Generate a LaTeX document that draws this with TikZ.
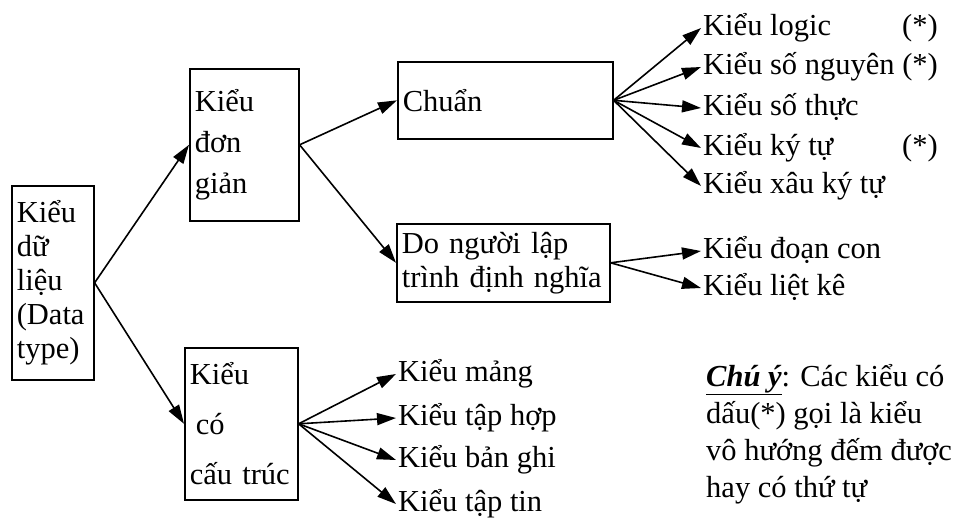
\documentclass[tikz,border=0pt]{standalone}
\usepackage{fontspec}
\setmainfont{Liberation Serif}
\usetikzlibrary{positioning, arrows.meta}
\tikzset{
  typebox/.style={draw, line width=1.6pt, inner xsep=5pt, inner ysep=0pt,
    align=left, anchor=north west, font=\fontsize{30.5pt}{34pt}\selectfont},
  leaf/.style={inner xsep=2pt, inner ysep=0pt, text height=21pt, text depth=7pt,
    anchor=base west, font=\fontsize{30.5pt}{34pt}\selectfont},
  typearrow/.style={-{Triangle[length=19pt, width=12pt]}, line width=1.6pt},
}

\begin{document}
\begin{tikzpicture}[x=1pt, y=-1pt]
  \useasboundingbox (0,0) rectangle (961,523);

  % === Root ===
  \node[typebox, text width=72pt, minimum width=82pt, minimum height=194pt] (kdl) at (11,185)
    {Kiểu\\dữ\\liệu\\(Data\\type)};

  % === Level 1 ===
  \node[typebox, text width=99pt, minimum width=109pt, minimum height=152pt,
    font=\fontsize{30.5pt}{41pt}\selectfont] (kdg) at (189,68) {Kiểu\\đơn\\giản};
  \node[typebox, text width=103pt, minimum width=113pt, minimum height=152pt,
    font=\fontsize{30.5pt}{50pt}\selectfont] (kct) at (184,347) {Kiểu\\\hspace*{0.2em}có\\cấu trúc};

  % === Level 2 ===
  \node[typebox, text width=205pt, minimum width=215pt, minimum height=77pt] (chuan) at (397,61) {Chuẩn};
  \node[typebox, text width=203pt, minimum width=213pt, minimum height=78pt] (dnl) at (396,223)
    {Do người lập\\trình định nghĩa};

  % === Leaves: Chuẩn ===
  \node[leaf] (logic)    at (701,35)  {Kiểu logic};
  \node[leaf] (songuyen) at (701,74)  {Kiểu số nguyên (*)};
  \node[leaf] (sothuc)   at (701,115) {Kiểu số thực};
  \node[leaf] (kytu)     at (701,155) {Kiểu ký tự};
  \node[leaf] (xau)      at (701,193) {Kiểu xâu ký tự};
  \node[leaf] (star1)    at (900,35)  {(*)};
  \node[leaf] (star2)    at (900,155) {(*)};

  % === Leaves: Do người lập trình định nghĩa ===
  \node[leaf] (doancon) at (701,258) {Kiểu đoạn con};
  \node[leaf] (lietke)  at (701,295) {Kiểu liệt kê};

  % === Leaves: Kiểu có cấu trúc ===
  \node[leaf] (mang)   at (396,381) {Kiểu mảng};
  \node[leaf] (taphop) at (396,425) {Kiểu tập hợp};
  \node[leaf] (banghi) at (396,467) {Kiểu bản ghi};
  \node[leaf] (taptin) at (396,511) {Kiểu tập tin};

  % === Note ===
  \node[align=left, anchor=north west, inner sep=0pt,
    font=\fontsize{30.5pt}{37pt}\selectfont] (note) at (706,364)
    {\underline{\textbf{\textit{Chú ý}}}: Các kiểu có\\dấu(*) gọi là kiểu\\vô hướng đếm được\\hay có thứ tự};

  % === Arrows ===
  \draw[typearrow] (kdl.east) -- (kdg.west);
  \draw[typearrow] (kdl.east) -- (kct.west);
  \draw[typearrow] (kdg.east) -- (chuan.west);
  \draw[typearrow] (kdg.east) -- (dnl.west);
  \foreach \l in {logic,songuyen,sothuc,kytu,xau}
    \draw[typearrow] (chuan.east) -- (\l.west);
  \foreach \l in {doancon,lietke}
    \draw[typearrow] (dnl.east) -- (\l.west);
  \foreach \l in {mang,taphop,banghi,taptin}
    \draw[typearrow] (kct.east) -- (\l.west);

\end{tikzpicture}
\end{document}
